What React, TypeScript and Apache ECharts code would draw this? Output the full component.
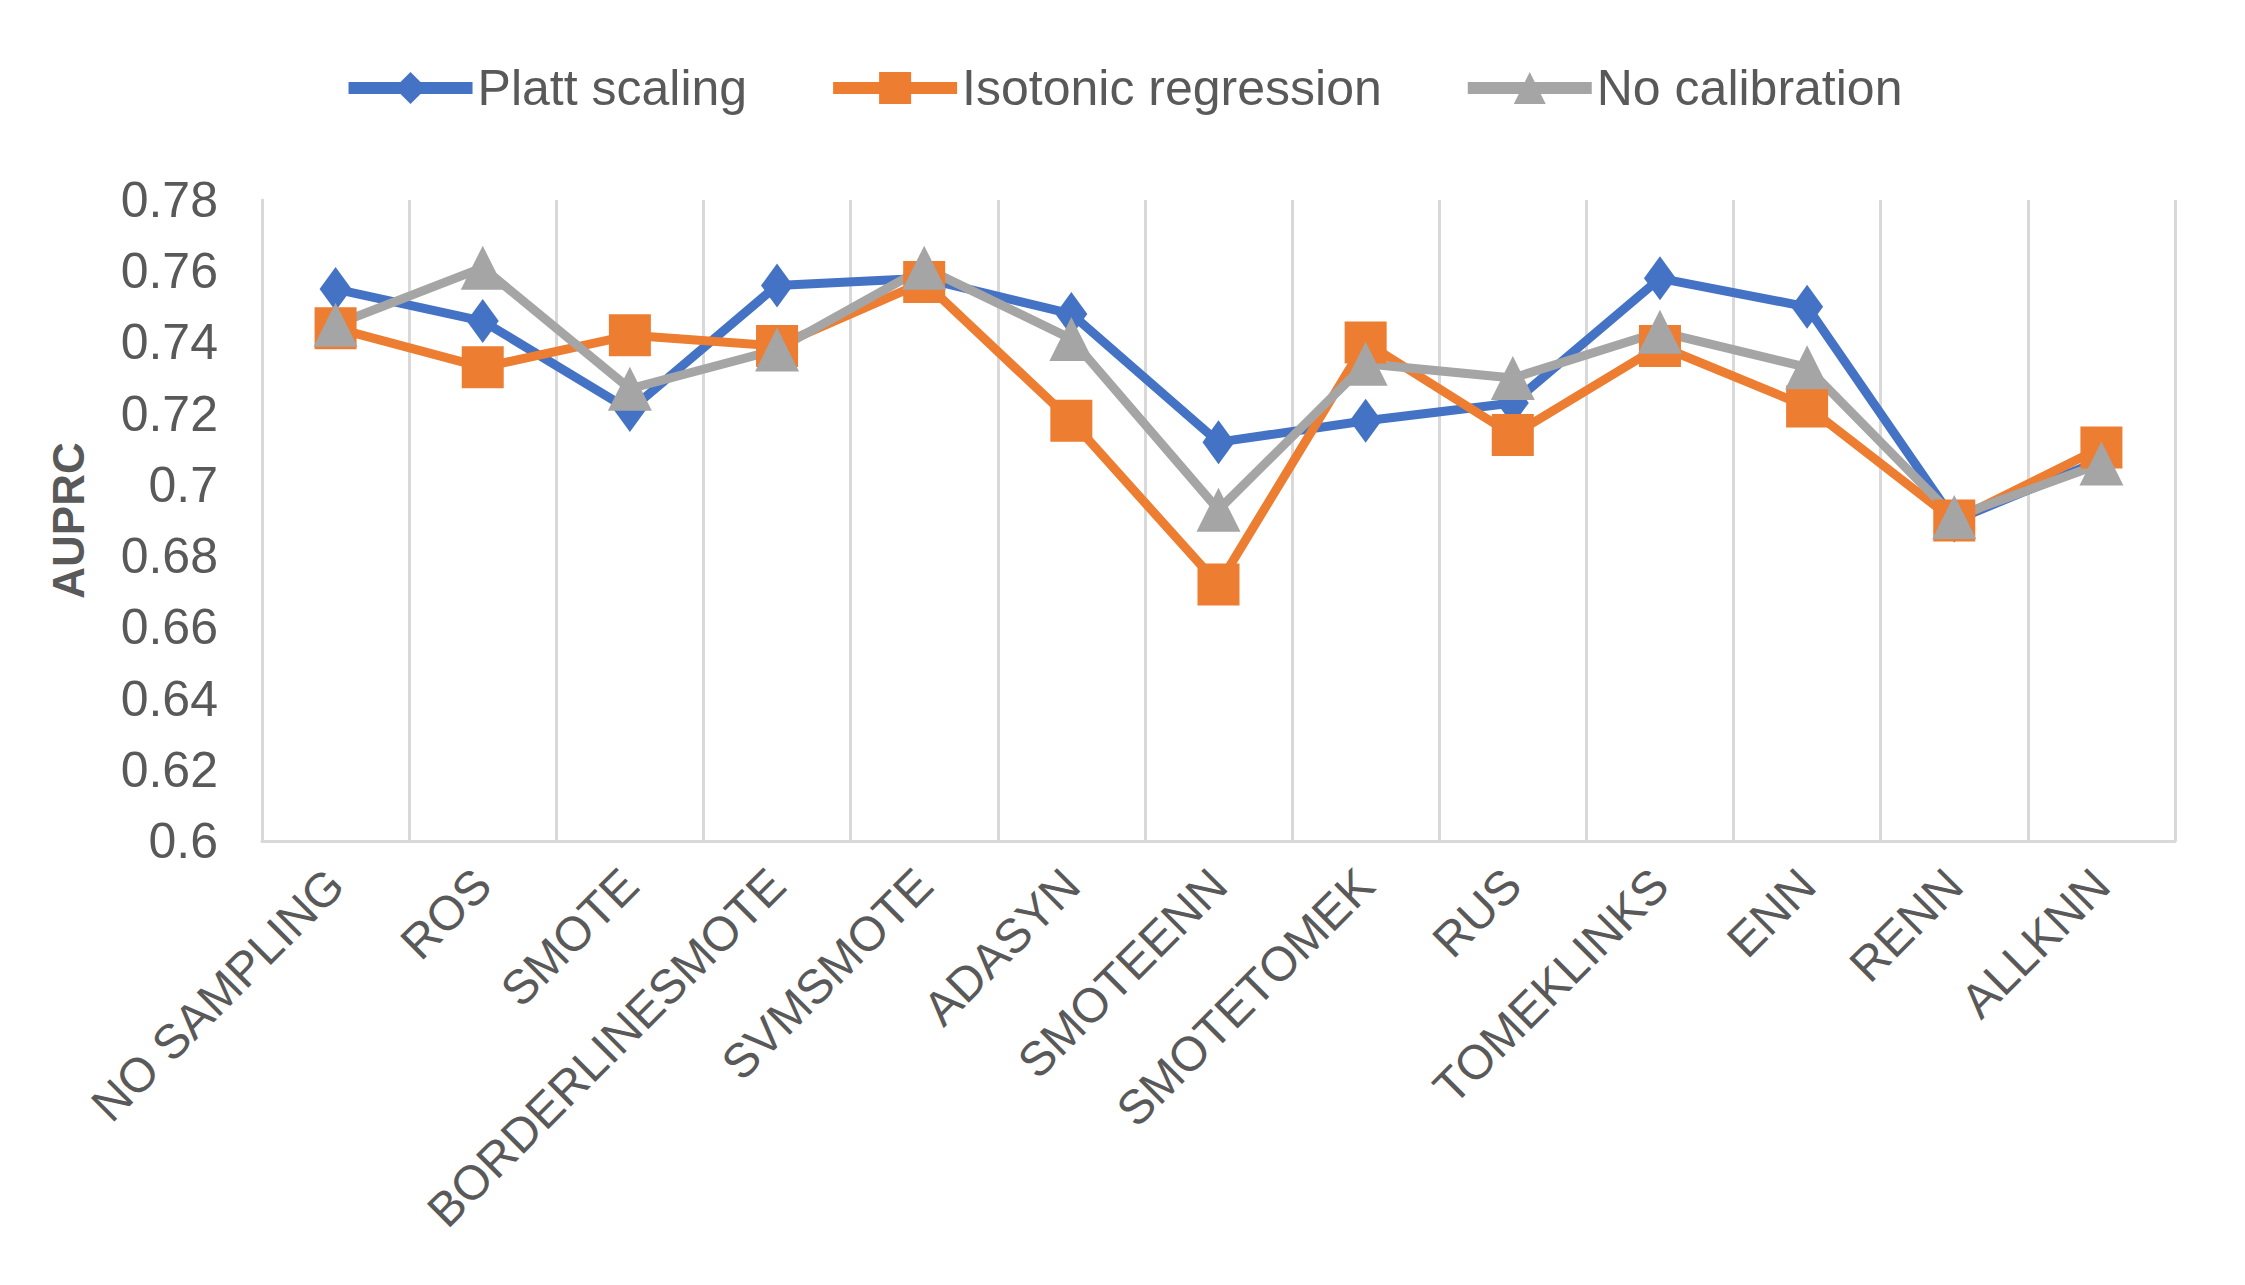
import React, { useEffect, useRef } from "react";
import * as echarts from "echarts";

const categories = [
  "NO SAMPLING", "ROS", "SMOTE", "BORDERLINESMOTE", "SVMSMOTE", "ADASYN",
  "SMOTEENN", "SMOTETOMEK", "RUS", "TOMEKLINKS", "ENN", "RENN", "ALLKNN",
];
const plattScaling = [0.755, 0.746, 0.721, 0.756, 0.758, 0.748, 0.712, 0.718, 0.723, 0.758, 0.75, 0.69, 0.707];
const isotonicRegression = [0.744, 0.733, 0.742, 0.739, 0.757, 0.718, 0.672, 0.74, 0.714, 0.739, 0.722, 0.69, 0.7105];
const noCalibration = [0.745, 0.761, 0.727, 0.738, 0.761, 0.741, 0.693, 0.734, 0.73, 0.743, 0.733, 0.691, 0.706];
const yTicks = { min: 0.6, max: 0.78, interval: 0.02 };

const FONT = "'Liberation Sans', Arial, sans-serif";
const TXT = "#595959";
const GRID = "#d9d9d9";

export default function App() {
  const ref = useRef<HTMLDivElement>(null);
  useEffect(() => {
    document.body.style.margin = "0";
    const chart = echarts.init(ref.current!, null, { renderer: "svg" });
    const mk = (name: string, data: number[], color: string, symbol: string, size: any) => ({
      name,
      type: "line",
      data,
      symbol,
      symbolSize: size,
      lineStyle: { color, width: 9 },
      itemStyle: { color },
      emphasis: { disabled: true },
    });
    chart.setOption({
      animation: false,
      backgroundColor: "#ffffff",
      textStyle: { fontFamily: FONT },
      legend: {
        top: 58,
        left: "center",
        itemWidth: 124,
        itemHeight: 40,
        itemGap: 80,
        textStyle: { fontSize: 50, color: TXT, fontFamily: FONT },
        lineStyle: { width: 12 },
        data: ["Platt scaling", "Isotonic regression", "No calibration"],
      },
      grid: { left: 262, right: 70, top: 200, bottom: 444, containLabel: false },
      xAxis: {
        type: "category",
        data: categories,
        boundaryGap: true,
        axisLine: { show: true, lineStyle: { color: GRID, width: 3 } },
        axisTick: { show: false },
        splitLine: { show: true, lineStyle: { color: GRID, width: 3 } },
        axisLabel: {
          rotate: 45,
          interval: 0,
          margin: 36,
          fontSize: 48,
          color: TXT,
          fontFamily: FONT,
        },
      },
      yAxis: {
        type: "value",
        min: yTicks.min,
        max: yTicks.max,
        interval: yTicks.interval,
        name: "AUPRC",
        nameLocation: "middle",
        nameRotate: 90,
        nameGap: 172,
        nameTextStyle: { fontSize: 44, color: TXT, fontFamily: FONT, fontWeight: "bold" },
        axisLine: { show: true, lineStyle: { color: GRID, width: 3 } },
        axisTick: { show: false },
        splitLine: { show: false },
        axisLabel: {
          fontSize: 50,
          color: TXT,
          margin: 44,
          fontFamily: FONT,
          formatter: (v: number) => String(+v.toFixed(2)),
        },
      },
      series: [
        mk("Platt scaling", plattScaling, "#4472C4", "diamond", [32, 44]),
        mk("Isotonic regression", isotonicRegression, "#ED7D31", "rect", 42),
        mk("No calibration", noCalibration, "#A5A5A5", "triangle", [44, 44]),
      ],
    });
    return () => chart.dispose();
  }, []);
  return <div ref={ref} style={{ position: "absolute", left: 0, top: 0, width: 2245, height: 1285 }} />;
}
